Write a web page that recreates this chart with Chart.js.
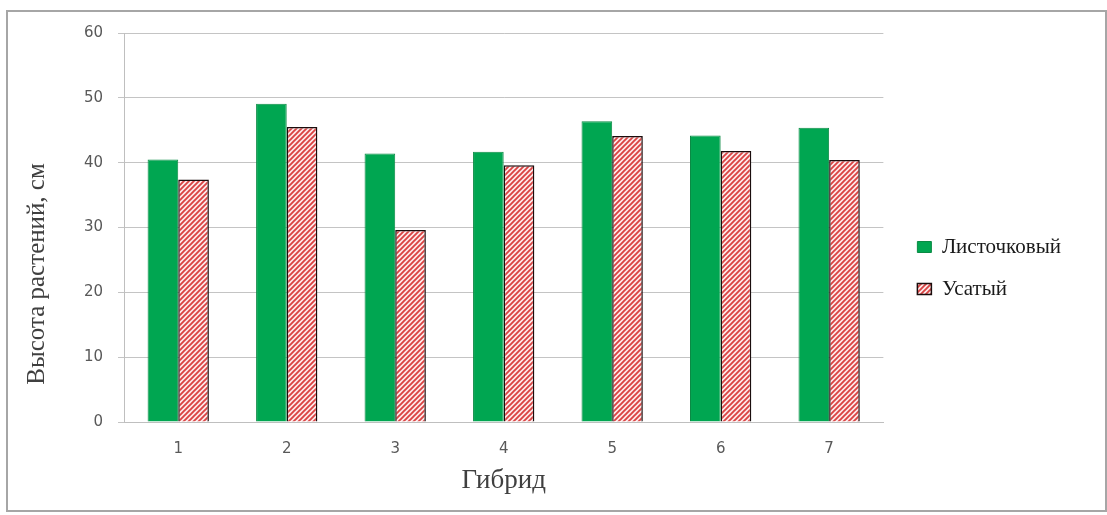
<!DOCTYPE html>
<html lang="ru">
<head>
<meta charset="utf-8">
<title>Высота растений по гибридам</title>
<script src="https://cdn.jsdelivr.net/npm/chart.js@4/dist/chart.umd.min.js"></script>
<style>
  html, body { margin: 0; padding: 0; background: #ffffff; }
  #wrap { width: 1107px; height: 515px; }
  canvas { display: block; }
</style>
</head>
<body>
<div id="wrap"><canvas id="chart" width="1107" height="515"></canvas></div>
<script>
// Гибриды по оси X
const hybrids = ['1', '2', '3', '4', '5', '6', '7'];

// Высота растений, см
const leafy = [40.5, 49.1, 41.4, 41.7, 46.4, 44.2, 45.4];     // Листочковый
const whiskered = [37.4, 45.5, 29.6, 39.6, 44.1, 41.8, 40.4]; // Усатый

const seriesNames = ['Листочковый', 'Усатый'];
const yTicks = [0, 10, 20, 30, 40, 50, 60];

const axisTitleX = 'Гибрид';
const axisTitleY = 'Высота растений, см';

// Diagonal red hatching for the second series
function makeHatch() {
  const size = 5;
  const tile = document.createElement('canvas');
  tile.width = size;
  tile.height = size;
  const c = tile.getContext('2d');
  c.fillStyle = '#fdecec';
  c.fillRect(0, 0, size, size);
  c.strokeStyle = '#da4444';
  c.lineWidth = 1.9;
  c.beginPath();
  c.moveTo(-1, 1); c.lineTo(1, -1);
  c.moveTo(0, size); c.lineTo(size, 0);
  c.moveTo(size - 1, size + 1); c.lineTo(size + 1, size - 1);
  c.stroke();
  return c.createPattern(tile, 'repeat');
}

const hatch = makeHatch();

// White page with a thin grey frame
const framePlugin = {
  id: 'frame',
  beforeDraw(chart) {
    const ctx = chart.ctx;
    ctx.save();
    ctx.fillStyle = '#ffffff';
    ctx.fillRect(0, 0, chart.width, chart.height);
    ctx.strokeStyle = '#a6a6a6';
    ctx.lineWidth = 2;
    ctx.strokeRect(7, 11, chart.width - 8, chart.height - 15);
    ctx.restore();
  }
};

// Rotated Y axis title, placed a bit below the middle of the axis
const yTitlePlugin = {
  id: 'yTitle',
  afterDraw(chart) {
    const ctx = chart.ctx;
    const area = chart.chartArea;
    ctx.save();
    ctx.translate(37, area.bottom - 148);
    ctx.rotate(-Math.PI / 2);
    ctx.font = '25px "Liberation Serif", "Times New Roman", serif';
    ctx.fillStyle = '#404040';
    ctx.textAlign = 'center';
    ctx.textBaseline = 'middle';
    ctx.fillText(axisTitleY, 0, 0);
    ctx.restore();
  }
};

// Leave a little air between the plot and the legend
const legendGapPlugin = {
  id: 'legendGap',
  afterLayout(chart) {
    if (chart.legend) {
      chart.legend.left += 13;
      chart.legend.right += 13;
    }
  }
};

new Chart(document.getElementById('chart'), {
  type: 'bar',
  data: {
    labels: hybrids,
    datasets: [
      {
        label: seriesNames[0],
        data: leafy,
        backgroundColor: '#00a651',
        borderColor: '#0a8a44',
        borderWidth: 1
      },
      {
        label: seriesNames[1],
        data: whiskered,
        backgroundColor: hatch,
        borderColor: '#1a0d0d',
        borderWidth: 1.5
      }
    ]
  },
  options: {
    responsive: false,
    devicePixelRatio: 1,
    animation: false,
    layout: { padding: { top: 33, bottom: 12, left: 0, right: 49 } },
    datasets: {
      bar: { categoryPercentage: 0.565, barPercentage: 1.0 }
    },
    plugins: {
      tooltip: { enabled: false },
      legend: {
        position: 'right',
        labels: {
          boxWidth: 14,
          boxHeight: 11,
          padding: 21,
          color: '#1a1a1a',
          font: { family: '"Liberation Serif", "Times New Roman", serif', size: 21 }
        }
      }
    },
    scales: {
      x: {
        grid: { display: false, drawTicks: false },
        border: { display: true, color: '#bfbfbf', width: 1 },
        ticks: {
          padding: 18,
          color: '#595959',
          font: { family: '"DejaVu Sans", sans-serif', size: 15 }
        },
        title: {
          display: true,
          text: axisTitleX,
          color: '#404040',
          padding: { top: 0, bottom: 6 },
          font: { family: '"Liberation Serif", "Times New Roman", serif', size: 27 }
        },
        afterFit(scale) { scale.height = 81; }
      },
      y: {
        min: yTicks[0],
        max: yTicks[yTicks.length - 1],
        afterBuildTicks(scale) { scale.ticks = yTicks.map(v => ({ value: v })); },
        grid: { color: '#c4c4c4', lineWidth: 1, tickLength: 6, drawTicks: true },
        border: { display: true, color: '#bfbfbf', width: 1 },
        ticks: {
          padding: 15,
          color: '#595959',
          font: { family: '"DejaVu Sans", sans-serif', size: 15 }
        },
        afterFit(scale) { scale.width = 124; }
      }
    }
  },
  plugins: [framePlugin, yTitlePlugin, legendGapPlugin]
});
</script>
</body>
</html>
